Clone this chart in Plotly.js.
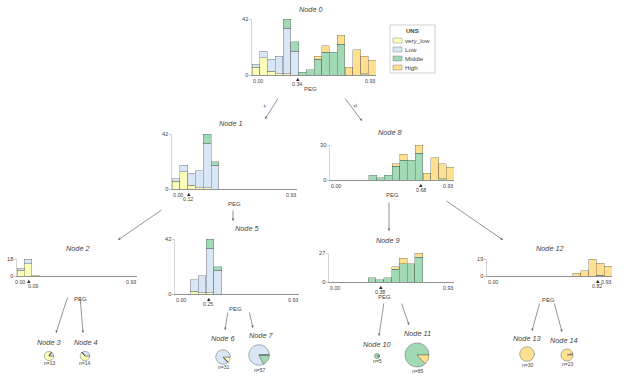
<!DOCTYPE html>
<html><head><meta charset="utf-8">
<script src="https://cdn.plot.ly/plotly-3.0.1.min.js"></script>
<style>html,body{margin:0;padding:0;background:#fff}#chart{width:624px;height:379px}</style>
</head><body><div id="chart"></div>
<script>
// ---------- DATA ----------
const classes = ['very_low', 'Low', 'Middle', 'High'];
const classColors = ['#FEFEBB', '#D9E6F5', '#a1dab4', '#fee090'];
const featureName = 'PEG';
const legendTitle = 'UNS';
const binCenters = [0.029, 0.087, 0.145, 0.203, 0.262, 0.320, 0.378, 0.436, 0.494, 0.552, 0.610, 0.668, 0.727, 0.785, 0.843, 0.901];
const binWidth = 0.058;
const xMin = 0.00, xMax = 0.93;

// split nodes: per-class counts per bin
const node0_very_low = [6,13,3,1,1,0,0,0,0,0,0,0,0,0,0,0];
const node0_low      = [2,5,9,13,34,18,0,0,0,0,0,0,0,0,0,0];
const node0_middle   = [0,0,0,0,7,7,2,4,12,17,17,23,0,0,1,0];
const node0_high     = [0,0,0,0,0,0,0,0,2,5,0,7,6,19,13,11];

const node1_very_low = [6,13,3,1,1,0,0,0,0,0,0,0,0,0,0,0];
const node1_low      = [2,5,9,13,34,18,0,0,0,0,0,0,0,0,0,0];
const node1_middle   = [0,0,0,0,7,3,0,0,0,0,0,0,0,0,0,0];
const node1_high     = [0,0,0,0,0,0,0,0,0,0,0,0,0,0,0,0];

const node8_very_low = [0,0,0,0,0,0,0,0,0,0,0,0,0,0,0,0];
const node8_low      = [0,0,0,0,0,0,0,0,0,0,0,0,0,0,0,0];
const node8_middle   = [0,0,0,0,0,4,2,4,12,17,17,23,0,0,1,0];
const node8_high     = [0,0,0,0,0,0,0,0,2,5,0,7,6,19,13,11];

const node2_very_low = [6,13,1,0,0,0,0,0,0,0,0,0,0,0,0,0];
const node2_low      = [2,5,0,0,0,0,0,0,0,0,0,0,0,0,0,0];
const node2_middle   = [0,0,0,0,0,0,0,0,0,0,0,0,0,0,0,0];
const node2_high     = [0,0,0,0,0,0,0,0,0,0,0,0,0,0,0,0];

const node5_very_low = [0,0,2,1,1,0,0,0,0,0,0,0,0,0,0,0];
const node5_low      = [0,0,9,13,34,18,0,0,0,0,0,0,0,0,0,0];
const node5_middle   = [0,0,0,0,7,3,0,0,0,0,0,0,0,0,0,0];
const node5_high     = [0,0,0,0,0,0,0,0,0,0,0,0,0,0,0,0];

const node9_very_low = [0,0,0,0,0,0,0,0,0,0,0,0,0,0,0,0];
const node9_low      = [0,0,0,0,0,0,0,0,0,0,0,0,0,0,0,0];
const node9_middle   = [0,0,0,0,0,4,2,4,12,17,17,23,0,0,0,0];
const node9_high     = [0,0,0,0,0,0,0,0,2,5,0,4,0,0,0,0];

const node12_very_low = [0,0,0,0,0,0,0,0,0,0,0,0,0,0,0,0];
const node12_low      = [0,0,0,0,0,0,0,0,0,0,0,0,0,0,0,0];
const node12_middle   = [0,0,0,0,0,0,0,0,0,0,0,0,0,0,1,0];
const node12_high     = [0,0,0,0,0,0,0,0,0,0,0,3,6,19,13,11];

const splitValues = {0: 0.34, 1: 0.12, 8: 0.68, 2: 0.09, 5: 0.25, 9: 0.38, 12: 0.82};
const yMaxLabels  = {0: 42, 1: 42, 8: 30, 2: 18, 5: 42, 9: 27, 12: 19};

// leaf nodes: counts per class [very_low, Low, Middle, High]
const node3_counts  = [11, 2, 0, 0];
const node4_counts  = [9, 5, 0, 0];
const node6_counts  = [4, 27, 0, 0];
const node7_counts  = [0, 47, 10, 0];
const node10_counts = [0, 0, 5, 0];
const node11_counts = [0, 0, 74, 11];
const node13_counts = [0, 0, 0, 30];
const node14_counts = [0, 0, 1, 22];

// ---------- LAYOUT (pixel positions) ----------
const W = 624, H = 379;
const px = x => x / W;
const py = y => 1 - y / H;
const TXT = '#444443';
const FONT = '"Liberation Sans", Arial, sans-serif';
const TICK = 5.3;

const splitNodes = [
  {id: 0,  data: [node0_very_low, node0_low, node0_middle, node0_high],     box: [252, 19, 376, 75],  title: [311, 9],   feat: [310, 89]},
  {id: 1,  data: [node1_very_low, node1_low, node1_middle, node1_high],     box: [172, 134, 297, 189], title: [231, 124], feat: [234, 204]},
  {id: 8,  data: [node8_very_low, node8_low, node8_middle, node8_high],     box: [330, 145, 454, 180], title: [390, 133], feat: [392, 195]},
  {id: 2,  data: [node2_very_low, node2_low, node2_middle, node2_high],     box: [17, 259, 137, 276],  title: [78, 248],  feat: [80, 299], minShift: -3, splitShift: 4},
  {id: 5,  data: [node5_very_low, node5_low, node5_middle, node5_high],     box: [175, 239, 299, 294], title: [247, 228], feat: [235, 309]},
  {id: 9,  data: [node9_very_low, node9_low, node9_middle, node9_high],     box: [329, 253, 454, 282], title: [388, 240], feat: [384, 297]},
  {id: 12, data: [node12_very_low, node12_low, node12_middle, node12_high], box: [487, 259, 612, 276], title: [550, 248], feat: [548, 300]}
];

const leafNodes = [
  {id: 3,  counts: node3_counts,  c: [49, 356],  r: 4.6,  title: [49, 342],  nlab: [49, 362.5]},
  {id: 4,  counts: node4_counts,  c: [85, 356],  r: 4.8,  title: [86, 342],  nlab: [84, 362.5]},
  {id: 6,  counts: node6_counts,  c: [223, 357], r: 7.3,  title: [223, 338], nlab: [223, 366.5]},
  {id: 7,  counts: node7_counts,  c: [259, 355], r: 10.3, title: [261, 335], nlab: [259, 369.5]},
  {id: 10, counts: node10_counts, c: [377, 356], r: 2.5,  title: [377, 344], nlab: [377, 361]},
  {id: 11, counts: node11_counts, c: [417, 355], r: 12,   title: [417, 333], nlab: [417, 370.5]},
  {id: 13, counts: node13_counts, c: [527, 354], r: 7.3,  title: [527, 338], nlab: [527, 365]},
  {id: 14, counts: node14_counts, c: [567, 355], r: 6,    title: [564, 340], nlab: [567, 364]}
];

// edges: [tail x, tail y, head x, head y]
const edges = [
  [279, 97, 265, 119], [344, 97, 362, 121],
  [163, 209, 118, 240], [233, 209, 233, 221],
  [389, 201, 389, 231], [445, 200, 503, 240],
  [68, 296, 56, 333], [80, 296, 83, 333],
  [228, 311, 225, 330], [249, 311, 253, 328],
  [384, 302, 379, 336], [401, 302, 409, 325],
  [540, 302, 532, 331], [554, 302, 562, 332]
];

const traces = [];
const layout = {
  width: W, height: H,
  margin: {l: 0, r: 0, t: 0, b: 0},
  paper_bgcolor: '#fff', plot_bgcolor: 'rgba(0,0,0,0)',
  barmode: 'stack', bargap: 0,
  showlegend: false,
  font: {family: FONT, color: TXT, size: 7},
  annotations: [], shapes: []
};

function ann(o) {
  layout.annotations.push(Object.assign({showarrow: false, xanchor: 'center', yanchor: 'middle', borderpad: 0,
    font: {family: FONT, size: TICK, color: TXT}}, o));
}

splitNodes.forEach((n, k) => {
  const idx = k + 1;
  const xa = 'x' + (idx === 1 ? '' : idx), ya = 'y' + (idx === 1 ? '' : idx);
  const xk = 'xaxis' + (idx === 1 ? '' : idx), yk = 'yaxis' + (idx === 1 ? '' : idx);
  const [x0, y0, x1, y1] = n.box;
  const ymax = yMaxLabels[n.id];
  const split = splitValues[n.id];
  layout[xk] = {domain: [px(x0), px(x1)], range: [xMin, xMax], anchor: ya, showticklabels: false, ticks: '',
    showline: true, linecolor: '#777', linewidth: 0.8, showgrid: false, zeroline: false, fixedrange: true};
  layout[yk] = {domain: [py(y1), py(y0)], range: [0, ymax], anchor: xa, tickvals: [0, ymax], ticks: 'outside',
    ticklen: 2, tickwidth: 0.5, tickcolor: '#999', showline: true, linecolor: '#bbb', linewidth: 0.6,
    showgrid: false, zeroline: false, fixedrange: true, tickfont: {family: FONT, size: TICK + 0.3, color: TXT}};
  n.data.forEach((vals, c) => {
    traces.push({type: 'bar', x: binCenters, y: vals.map(v => v === 0 ? null : v), width: binWidth,
      xaxis: xa, yaxis: ya, name: classes[c], hoverinfo: 'skip', showlegend: false,
      marker: {color: classColors[c], line: {color: 'rgba(68,68,67,0.65)', width: 0.5}}});
  });
  ann({xref: 'paper', yref: 'paper', x: px(n.title[0]), y: py(n.title[1]), text: '<i>Node ' + n.id + '</i>', font: {family: FONT, size: 7.3, color: TXT}});
  ann({xref: 'paper', yref: 'paper', x: px(n.feat[0]), y: py(n.feat[1]), text: featureName, font: {family: FONT, size: 6, color: TXT}});
  ann({xref: xa, yref: 'paper', x: xMin, y: py(y1 + 6), xanchor: 'left', xshift: n.minShift || 0, text: xMin.toFixed(2)});
  ann({xref: xa, yref: 'paper', x: xMax, y: py(y1 + 6), xanchor: 'right', text: xMax.toFixed(2)});
  ann({xref: xa, yref: 'paper', x: split, y: py(y1 + 9.5), xshift: n.splitShift || 0, text: split.toFixed(2)});
  ann({xref: xa, yref: 'paper', x: split, y: py(y1 + 0.5), yanchor: 'top', text: '▲', font: {family: FONT, size: 5.5, color: '#222'}});
});

leafNodes.forEach(n => {
  const [cx, cy] = n.c;
  traces.push({type: 'pie', values: n.counts, labels: classes, sort: false, direction: 'counterclockwise', rotation: 90,
    textinfo: 'none', hoverinfo: 'skip', showlegend: false,
    marker: {colors: classColors, line: {color: 'rgba(68,68,67,0.8)', width: 0.5}},
    domain: {x: [px(cx - n.r), px(cx + n.r)], y: [py(cy + n.r), py(cy - n.r)]}});
  ann({xref: 'paper', yref: 'paper', x: px(n.title[0]), y: py(n.title[1]), text: '<i>Node ' + n.id + '</i>', font: {family: FONT, size: 7.3, color: TXT}});
  const total = n.counts.reduce((a, b) => a + b, 0);
  ann({xref: 'paper', yref: 'paper', x: px(n.nlab[0]), y: py(n.nlab[1]), text: 'n=' + total, font: {family: FONT, size: 5, color: TXT}});
});

edges.forEach(e => {
  layout.annotations.push({xref: 'paper', yref: 'paper', x: px(e[2]), y: py(e[3]), ax: e[0] - e[2], ay: e[1] - e[3],
    axref: 'pixel', ayref: 'pixel', text: '', showarrow: true, arrowhead: 2, arrowsize: 0.7, arrowwidth: 0.7, arrowcolor: '#666'});
});
// edge labels
ann({xref: 'paper', yref: 'paper', x: px(265), y: py(106), text: '<', textangle: -57, font: {family: FONT, size: 6, color: TXT}});
ann({xref: 'paper', yref: 'paper', x: px(356), y: py(106), text: '≥', textangle: 53, font: {family: FONT, size: 6, color: TXT}});

// legend (manual)
layout.shapes.push({type: 'rect', xref: 'paper', yref: 'paper', x0: px(390), x1: px(435), y0: py(73), y1: py(25),
  line: {color: '#bbb', width: 0.7}, fillcolor: '#fff'});
ann({xref: 'paper', yref: 'paper', x: px(412), y: py(31), text: '<b>' + legendTitle + '</b>', font: {family: FONT, size: 6, color: TXT}});
classes.forEach((c, i) => {
  const yc = 40.5 + i * 9;
  layout.shapes.push({type: 'rect', xref: 'paper', yref: 'paper', x0: px(393), x1: px(402), y0: py(yc + 2.5), y1: py(yc - 2.5),
    line: {color: 'rgba(68,68,67,0.6)', width: 0.5}, fillcolor: classColors[i]});
  ann({xref: 'paper', yref: 'paper', x: px(404), y: py(yc), xanchor: 'left', text: c, font: {family: FONT, size: 6.2, color: TXT}});
});

Plotly.newPlot('chart', traces, layout, {staticPlot: true, displayModeBar: false});
</script>
</body></html>
